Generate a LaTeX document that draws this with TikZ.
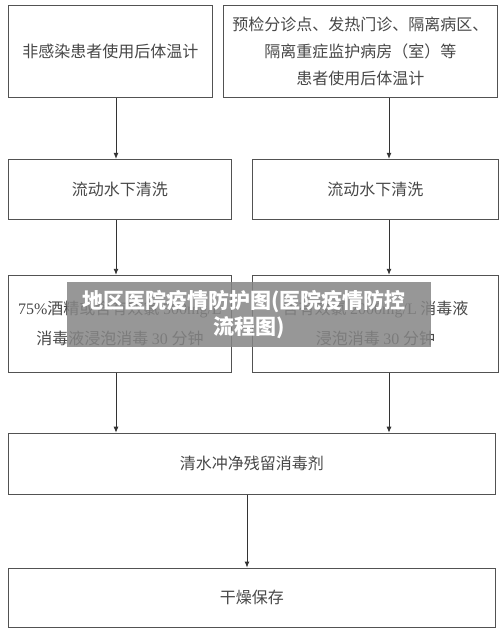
\documentclass[tikz,border=0pt]{standalone}
\usepackage{fontspec}
\setmainfont{Liberation Serif}
\newfontfamily\cjk{Noto Sans CJK SC}
\usepackage{tikz}
\usetikzlibrary{positioning,arrows.meta}
\tikzset{
  stepbox/.style={rectangle, draw=black!68, line width=0.9pt, inner sep=0pt, anchor=north west,
                  font=\cjk\fontsize{16}{27}\selectfont, text=black!72, align=center},
  fwd/.style={-{Latex[length=6pt,width=5pt]}, line width=0.9pt, draw=black!80},
  banner/.style={rectangle, fill=black!48, fill opacity=0.85, text opacity=1, text=white,
                 minimum width=364pt, minimum height=65pt, inner sep=0pt, align=center,
                 font=\cjk\bfseries\fontsize{21}{26}\selectfont},
}

\begin{document}
\begin{tikzpicture}[x=1pt, y=-1pt]
  \useasboundingbox (0,0) rectangle (500,629);

  \node[stepbox, minimum width=204pt, minimum height=92pt] (node1) at (8,5) {非感染患者使用后体温计};
  \node[stepbox, minimum width=274pt, minimum height=92pt] (node2) at (223,5)
    {预检分诊点、发热门诊、隔离病区、\\隔离重症监护病房（室）等\\患者使用后体温计};
  \node[stepbox, minimum width=223pt, minimum height=60pt] (node3) [below=61pt of node1.south west, anchor=north west] {流动水下清洗};
  \node[stepbox, minimum width=246pt, minimum height=60pt] (node4) [below=61pt of node2.south west, anchor=north west, xshift=29pt] {流动水下清洗};
  \node[stepbox, minimum width=223pt, minimum height=97pt] (node5) [below=55pt of node3.south west, anchor=north west]
    {{\rmfamily 75\%}酒精或含有效氯 {\rmfamily 500mg/L}\\[3pt]消毒液浸泡消毒 {\rmfamily 30} 分钟};
  \node[stepbox, minimum width=246pt, minimum height=97pt] (node6) [below=55pt of node4.south west, anchor=north west]
    {含有效氯 {\rmfamily 2000mg/L} 消毒液\\[3pt]浸泡消毒 {\rmfamily 30} 分钟};
  \node[stepbox, minimum width=487pt, minimum height=61pt] (node7) [below=60pt of node5.south west, anchor=north west] {清水冲净残留消毒剂};
  \node[stepbox, minimum width=487pt, minimum height=59pt] (node8) [below=73pt of node7.south west, anchor=north west] {干燥保存};

  % arrow columns
  \coordinate (lx) at (116,0);
  \coordinate (rx) at (389,0);
  \coordinate (mx) at (247,0);

  \draw[fwd] (node1.south -| lx) -- (node3.north -| lx);
  \draw[fwd] (node3.south -| lx) -- (node5.north -| lx);
  \draw[fwd] (node5.south -| lx) -- (node7.north -| lx);
  \draw[fwd] (node2.south -| rx) -- (node4.north -| rx);
  \draw[fwd] (node4.south -| rx) -- (node6.north -| rx);
  \draw[fwd] (node6.south -| rx) -- (node7.north -| rx);
  \draw[fwd] (node7.south -| mx) -- (node8.north -| mx);

  % watermark banner
  \node[banner] (mark) at (249,314.5) {\hspace*{-10pt}地区医院疫情防护图(医院疫情防控\\流程图)};
\end{tikzpicture}
\end{document}
